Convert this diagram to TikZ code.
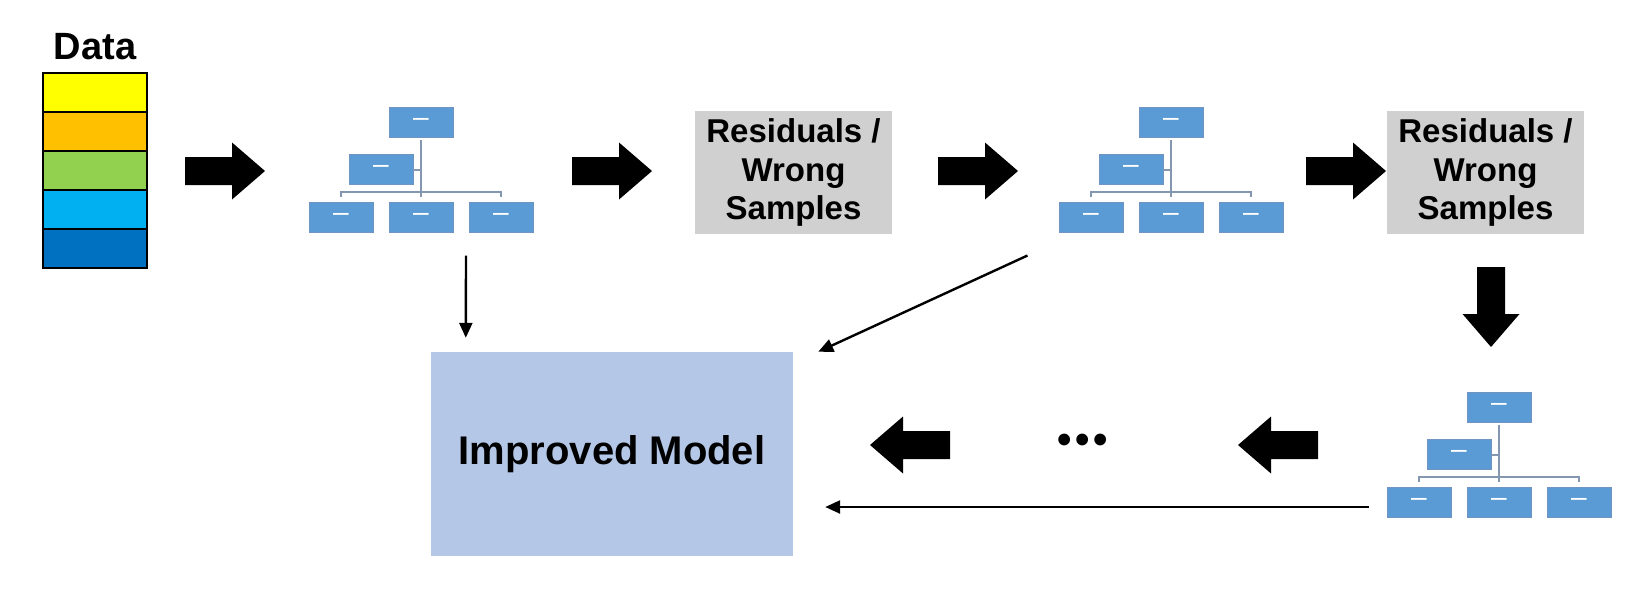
\documentclass[tikz,border=0pt]{standalone}
\usepackage{fontspec}
\setmainfont{Liberation Sans}
\usepackage{xcolor}
\usetikzlibrary{positioning, calc, arrows.meta}

\definecolor{boxblue}{HTML}{5B9BD5}
\definecolor{boxedge}{HTML}{7294C2}
\definecolor{linkgray}{HTML}{8497B0}
\definecolor{resgray}{HTML}{D0D0D0}
\definecolor{modelblue}{HTML}{B4C7E7}
\definecolor{dataA}{HTML}{FFFF00}
\definecolor{dataB}{HTML}{FFC000}
\definecolor{dataC}{HTML}{92D050}
\definecolor{dataD}{HTML}{00B0F0}
\definecolor{dataE}{HTML}{0070C0}

\tikzset{
    orgbox/.style={draw=boxedge, line width=1pt, fill=boxblue, minimum width=64pt, minimum height=30pt, inner sep=0pt, text=white, font=\fontsize{28}{28}\selectfont},
    orglink/.style={draw=linkgray, line width=2.6pt},
    % small org chart, origin at top of the root box
    orgchart/.pic={
        \node[orgbox] (-top) at (0,15) {–};
        \node[orgbox] (-asst) at (-40,62) {–};
        \node[orgbox] (-bl) at (-80,110) {–};
        \node[orgbox] (-bm) at (0,110) {–};
        \node[orgbox] (-br) at (80,110) {–};
        \draw[orglink] (0,33) -- (0,90);
        \draw[orglink] (-80,90) -- (-80,85) -- (80,85) -- (80,90);
        \draw[orglink] (-8,63) -- (0,63);
    },
    blockarrow/.pic={
        \fill[black] (0,-14) -- (47,-14) -- (47,-28.5) -- (80,0) -- (47,28.5) -- (47,14) -- (0,14) -- cycle;
    }
}

\begin{document}
\begin{tikzpicture}[
    x=1pt, y=-1pt,
    band/.style={draw=black, line width=2pt, minimum width=104pt, minimum height=39pt, inner sep=0pt},
    resbox/.style={fill=resgray, minimum width=197pt, minimum height=123pt, inner sep=0pt, align=center, font=\bfseries\fontsize{33}{38.5}\selectfont},
    modelbox/.style={fill=modelblue, minimum width=362pt, minimum height=204pt, inner sep=0pt, font=\bfseries\fontsize{40}{40}\selectfont},
    thinarrow/.style={-{Triangle[length=15pt,width=13pt]}, line width=2.4pt}
]
\useasboundingbox (0,0) rectangle (1632,590);

% data stack
\node[anchor=base, font=\bfseries\fontsize{38}{38}\selectfont] (datatitle) at (95,59) {Data};
\foreach \c [count=\i] in {dataA, dataB, dataC, dataD, dataE}
    \node[band, fill=\c] (band\i) at (95,53.5+39*\i) {};

% boosting chain
\pic (treeA) at (421,107) {orgchart};
\node[resbox] (resA) at (793.5,172.5) {Residuals /\\Wrong\\Samples};
\pic (treeB) at (1171,107) {orgchart};
\node[resbox] (resB) at (1485.5,172.5) {Residuals /\\Wrong\\Samples};
\pic (treeC) at (1499,392) {orgchart};
\node[modelbox] (model) at (612,454) {Improved Model};
\node[font=\bfseries\fontsize{41}{41}\selectfont, inner sep=0pt] (dots) at (1083,444) {•\hspace{3.6pt}•\hspace{3.6pt}•};

% block arrows
\pic at (185,171) {blockarrow};
\pic at (572,171) {blockarrow};
\pic at (938,171) {blockarrow};
\pic at (1306,171) {blockarrow};
\pic[rotate=-90] at (1491,267) {blockarrow};
\pic[rotate=180] at (1318,445) {blockarrow};
\pic[rotate=180] at (950,445) {blockarrow};

% trees feed the model
\coordinate (dropA) at ($(treeA-bm.south)+(45,23)$);
\coordinate (hitA) at ($(model.north west)+(35,-14)$);
\coordinate (dropB) at ($(treeB-bl.south west)+(-31,23)$);
\coordinate (hitB) at ($(model.north east)+(25,0)$);
\coordinate (dropC) at ($(treeC-bl.west)+(-18,5)$);
\coordinate (hitC) at ($(model.east)+(32,53)$);
\draw[thinarrow] (dropA) -- (hitA);
\draw[thinarrow] (dropB) -- (hitB);
\draw[thinarrow] (dropC) -- (hitC);

\end{tikzpicture}
\end{document}
